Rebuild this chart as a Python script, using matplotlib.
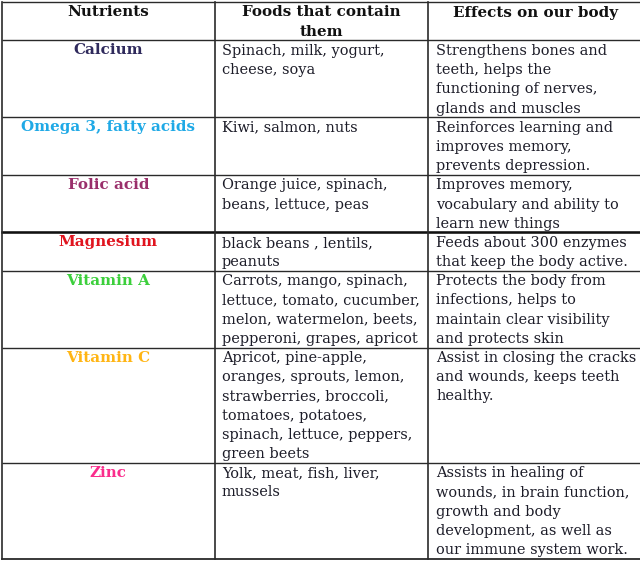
import matplotlib
matplotlib.use("Agg")
import matplotlib.pyplot as plt

headers = ["Nutrients", "Foods that contain\nthem", "Effects on our body"]
nutrients = ["Calcium", "Omega 3, fatty acids", "Folic acid", "Magnesium",
             "Vitamin A", "Vitamin C", "Zinc"]
nutrient_colors = ["#2f2a5c", "#1fa9e6", "#9a2f6b", "#e0141e",
                   "#3ccf3c", "#ffb514", "#fa2d8c"]
foods = [
    ["Spinach, milk, yogurt,", "cheese, soya"],
    ["Kiwi, salmon, nuts"],
    ["Orange juice, spinach,", "beans, lettuce, peas"],
    ["black beans , lentils,", "peanuts"],
    ["Carrots, mango, spinach,", "lettuce, tomato, cucumber,",
     "melon, watermelon, beets,", "pepperoni, grapes, apricot"],
    ["Apricot, pine-apple,", "oranges, sprouts, lemon,", "strawberries, broccoli,",
     "tomatoes, potatoes,", "spinach, lettuce, peppers,", "green beets"],
    ["Yolk, meat, fish, liver,", "mussels"],
]
effects = [
    ["Strengthens bones and", "teeth, helps the", "functioning of nerves,",
     "glands and muscles"],
    ["Reinforces learning and", "improves memory,", "prevents depression."],
    ["Improves memory,", "vocabulary and ability to", "learn new things"],
    ["Feeds about 300 enzymes", "that keep the body active."],
    ["Protects the body from", "infections, helps to",
     "maintain clear visibility", "and protects skin"],
    ["Assist in closing the cracks", "and wounds, keeps teeth", "healthy."],
    ["Assists in healing of", "wounds, in brain function,", "growth and body",
     "development, as well as", "our immune system work."],
]
thick_after = "Folic acid"

W, H = 640, 562
fig = plt.figure(figsize=(W / 100, H / 100), dpi=100)
ax = fig.add_axes([0, 0, 1, 1])
ax.set_xlim(0, W)
ax.set_ylim(H, 0)
ax.axis("off")

FONT = "DejaVu Serif"
FS = 10.45
BFS = 10.9
LINE = 19.2
col_x = [1.5, 215, 428, 645]
text_col = "#1c1c28"
line_col = "#2a2a2a"

# row layout: header has 2 lines, others as many as their longest cell
row_tops = []
y = 2.0
row_tops.append((y, 2))
y += 2 * LINE
for k in range(len(nutrients)):
    n = max(len(foods[k]), len(effects[k]))
    row_tops.append((y, n))
    y += n * LINE
bottom = y

# header text
y0, _ = row_tops[0]
ax.text((col_x[0] + col_x[1]) / 2, y0 + 10.5, headers[0], ha="center", va="center",
        fontsize=BFS, fontweight="bold", family=FONT, color="#111111")
for i, ln in enumerate(headers[1].split("\n")):
    ax.text((col_x[1] + col_x[2]) / 2, y0 + 10.5 + i * LINE, ln, ha="center", va="center",
            fontsize=BFS, fontweight="bold", family=FONT, color="#111111")
ax.text((col_x[2] + col_x[3]) / 2 - 1, y0 + 10.5, headers[2], ha="center", va="center",
        fontsize=BFS, fontweight="bold", family=FONT, color="#111111")

for k in range(len(nutrients)):
    yt, n = row_tops[k + 1]
    ax.text((col_x[0] + col_x[1]) / 2, yt + 10, nutrients[k], ha="center", va="center",
            fontsize=BFS, fontweight="bold", family=FONT, color=nutrient_colors[k])
    for i, ln in enumerate(foods[k]):
        ax.text(col_x[1] + 7, yt + 10.5 + i * LINE, ln, ha="left", va="center",
                fontsize=FS, family=FONT, color=text_col)
    for i, ln in enumerate(effects[k]):
        ax.text(col_x[2] + 8.5, yt + 10.5 + i * LINE, ln, ha="left", va="center",
                fontsize=FS, family=FONT, color=text_col)

# grid lines
for yt, n in row_tops:
    ax.plot([col_x[0], W], [yt, yt], color=line_col, lw=1.0, solid_capstyle="butt")
k = nutrients.index(thick_after)
yt, n = row_tops[k + 1]
ax.plot([col_x[0], W], [yt + n * LINE] * 2, color="#111111", lw=1.8)
ax.plot([col_x[0], W], [bottom, bottom], color=line_col, lw=1.3)
for x in col_x[:3]:
    ax.plot([x, x], [2, bottom], color=line_col, lw=1.2)

fig.savefig("out.png", dpi=100)
